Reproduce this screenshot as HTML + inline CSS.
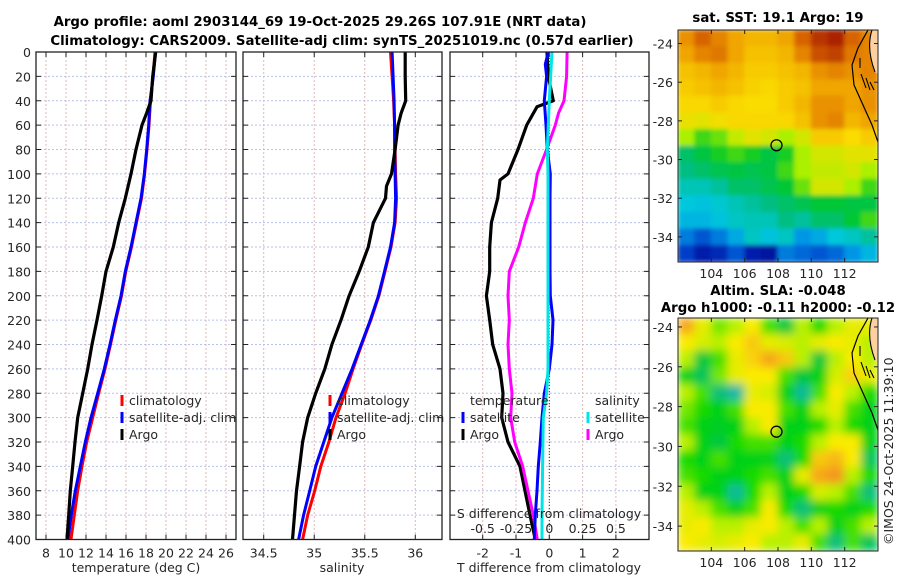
<!DOCTYPE html>
<html><head><meta charset="utf-8">
<style>
html,body{margin:0;padding:0;background:#fff;}
svg{display:block;font-family:"DejaVu Sans","Liberation Sans",sans-serif;}
.t{font-size:12.5px;fill:#262626;}
.b{font-size:13.3px;font-weight:bold;fill:#000;}
</style></head>
<body>
<svg id="fig" width="900" height="580" viewBox="0 0 900 580">
<defs>
<clipPath id="c1"><rect x="36" y="52" width="200" height="488"/></clipPath>
<clipPath id="c2"><rect x="243" y="52" width="199" height="488"/></clipPath>
<clipPath id="c3"><rect x="450" y="52" width="199" height="488"/></clipPath>
<clipPath id="cm1"><rect x="678" y="30" width="200" height="232"/></clipPath>
<clipPath id="cm2"><rect x="678" y="318" width="200" height="233"/></clipPath>
<filter id="blurS" x="-5%" y="-5%" width="110%" height="110%"><feGaussianBlur stdDeviation="2"/></filter>
<filter id="blurA" x="-5%" y="-5%" width="110%" height="110%"><feGaussianBlur stdDeviation="4.5"/></filter>
</defs>
<text class="b" x="320" y="26" text-anchor="middle">Argo profile: aoml 2903144_69 19-Oct-2025 29.26S 107.91E (NRT data)</text>
<text class="b" x="342" y="45" text-anchor="middle">Climatology: CARS2009. Satellite-adj clim: synTS_20251019.nc (0.57d earlier)</text>
<g id="g"></g>
<text class="b" x="778" y="22" text-anchor="middle">sat. SST: 19.1 Argo: 19</text>
<text class="b" x="778" y="295" text-anchor="middle">Altim. SLA: -0.048</text>
<text class="b" x="778" y="312" text-anchor="middle">Argo h1000: -0.11 h2000: -0.12</text>
<text class="t" x="0" y="0" transform="translate(893,545) rotate(-90)" style="font-size:12.5px">©IMOS 24-Oct-2025 11:39:10</text>
</svg>
<script>
// ---- data: temperature panel ----
const depthT = [0,20,40,50,60,80,100,120,140,160,180,200,220,240,260,280,300,320,340,360,380,400];
const tempArgo = [18.97,18.67,18.5,18.07,17.6,17.0,16.5,15.93,15.27,14.73,14.0,13.57,13.1,12.6,12.17,11.67,11.17,10.9,10.67,10.43,10.27,10.1];
const depthStd = [0,20,40,60,80,100,120,140,160,180,200,220,240,260,280,300,320,340,360,380,400];
const tempSat = [18.95,18.73,18.4,18.27,18.07,17.83,17.5,17.0,16.5,15.93,15.5,14.93,14.4,13.83,13.17,12.5,11.93,11.43,10.93,10.53,10.2];
const tempClim = [18.9,18.7,18.45,18.3,18.1,17.86,17.55,17.05,16.55,15.98,15.55,14.98,14.45,13.9,13.27,12.67,12.07,11.6,11.17,10.83,10.5];
const tempTicks = [8,10,12,14,16,18,20,22,24,26];
// ---- data: salinity panel ----
const depthS = [0,20,40,50,60,80,100,110,120,140,160,180,200,220,240,260,280,300,320,340,360,380,400];
const salArgo = [35.90,35.90,35.905,35.86,35.83,35.80,35.765,35.715,35.705,35.585,35.535,35.445,35.345,35.265,35.175,35.105,35.015,34.935,34.885,34.855,34.825,34.805,34.785];
const salSat = [35.77,35.78,35.79,35.795,35.795,35.80,35.805,35.795,35.755,35.695,35.635,35.555,35.465,35.375,35.275,35.175,35.095,35.015,34.955,34.895,34.845];
const salClim = [35.755,35.77,35.785,35.795,35.80,35.805,35.815,35.80,35.76,35.70,35.64,35.56,35.47,35.385,35.305,35.215,35.145,35.065,35.005,34.935,34.885];
const salTicks = [34.5,35,35.5,36];
// ---- data: difference panel ----
const depthTdA = [0,20,40,45,60,80,100,105,120,140,160,180,200,220,240,260,280,300,320,340,360,380,400];
const tDiffArgo = [-0.07,-0.03,0.12,-0.37,-0.68,-0.94,-1.24,-1.48,-1.55,-1.74,-1.79,-1.79,-1.89,-1.79,-1.70,-1.48,-1.39,-1.43,-1.24,-0.88,-0.73,-0.58,-0.42];
const depthSdA = [0,20,40,50,60,80,100,120,140,160,180,200,220,240,260,280,300,320,340,360,380,400];
const sDiffArgo = [0.134,0.13,0.11,0.07,0.045,-0.02,-0.09,-0.12,-0.18,-0.23,-0.30,-0.31,-0.30,-0.31,-0.30,-0.28,-0.29,-0.26,-0.20,-0.16,-0.12,-0.09];
const depthTdS = [0,10,20,40,60,80,100,120,140,160,180,200,220,240,260,280,300,320,340,360,380,400];
const tDiffSat = [-0.03,-0.12,-0.08,-0.15,-0.1,-0.06,0.03,0.02,0.02,0.02,0.02,0.03,0.11,0.08,0.0,-0.15,-0.22,-0.27,-0.33,-0.37,-0.42,-0.45];
const depthSdS = [0,40,80,100,200,260,280,300,340,380,400];
const sDiffSat = [0.02,0.0,-0.015,-0.01,-0.01,-0.01,-0.02,-0.045,-0.05,-0.055,-0.055];
const tDiffTicks = [-2,-1,0,1,2];
const sDiffTicks = [-0.5,-0.25,0,0.25,0.5];
const depthTicks = [0,20,40,60,80,100,120,140,160,180,200,220,240,260,280,300,320,340,360,380,400];
// ---- data: maps (rows north->south, cols west->east) ----
const sstGrid = [
[0.78,0.85,0.8,0.75,0.72,0.72,0.75,0.85,0.92,0.95,0.85,0.8],
[0.75,0.8,0.82,0.75,0.7,0.7,0.72,0.8,0.88,0.9,0.82,0.8],
[0.7,0.72,0.75,0.72,0.68,0.68,0.7,0.72,0.78,0.8,0.78,0.8],
[0.68,0.7,0.72,0.7,0.67,0.66,0.68,0.7,0.75,0.75,0.75,0.78],
[0.66,0.66,0.68,0.66,0.65,0.65,0.68,0.72,0.78,0.78,0.75,0.78],
[0.63,0.62,0.64,0.66,0.66,0.66,0.66,0.7,0.78,0.8,0.72,0.75],
[0.55,0.5,0.52,0.58,0.62,0.6,0.55,0.6,0.68,0.68,0.65,0.68],
[0.42,0.45,0.48,0.5,0.48,0.45,0.48,0.55,0.6,0.6,0.62,0.62],
[0.4,0.42,0.44,0.45,0.44,0.45,0.5,0.55,0.58,0.58,0.6,0.55],
[0.36,0.36,0.38,0.42,0.42,0.44,0.46,0.52,0.6,0.6,0.55,0.5],
[0.33,0.32,0.34,0.36,0.38,0.4,0.42,0.44,0.46,0.46,0.45,0.45],
[0.3,0.3,0.32,0.35,0.36,0.36,0.4,0.38,0.42,0.42,0.46,0.5],
[0.22,0.18,0.22,0.28,0.35,0.32,0.35,0.25,0.28,0.33,0.35,0.38],
[0.15,0.1,0.12,0.18,0.1,0.08,0.22,0.2,0.18,0.2,0.25,0.3]];
const slaGrid = [
[0.7,0.6,0.52,0.55,0.62,0.5,0.42,0.55,0.48,0.55,0.6,0.6],
[0.62,0.58,0.55,0.62,0.66,0.6,0.58,0.55,0.6,0.62,0.6,0.55],
[0.55,0.42,0.5,0.6,0.65,0.7,0.66,0.55,0.42,0.55,0.62,0.55],
[0.45,0.4,0.52,0.6,0.62,0.62,0.5,0.42,0.45,0.58,0.65,0.6],
[0.55,0.5,0.38,0.35,0.6,0.58,0.45,0.36,0.5,0.62,0.55,0.48],
[0.52,0.48,0.45,0.5,0.62,0.62,0.5,0.45,0.55,0.6,0.5,0.45],
[0.5,0.45,0.44,0.45,0.55,0.62,0.45,0.45,0.48,0.55,0.48,0.45],
[0.55,0.45,0.42,0.48,0.5,0.5,0.45,0.48,0.55,0.62,0.62,0.45],
[0.48,0.45,0.5,0.45,0.45,0.45,0.38,0.48,0.66,0.68,0.62,0.4],
[0.5,0.48,0.45,0.45,0.48,0.5,0.45,0.6,0.7,0.72,0.55,0.48],
[0.55,0.45,0.45,0.36,0.48,0.55,0.45,0.48,0.58,0.55,0.5,0.38],
[0.6,0.55,0.5,0.45,0.5,0.62,0.48,0.38,0.45,0.48,0.45,0.48],
[0.6,0.62,0.55,0.55,0.6,0.62,0.55,0.5,0.55,0.45,0.5,0.55],
[0.62,0.6,0.58,0.6,0.62,0.55,0.55,0.6,0.5,0.38,0.5,0.4]];
const lonTicks = [104,106,108,110,112];
const latTicks = [-24,-26,-28,-30,-32,-34];
const argoLon = 107.91, argoLat = -29.26;

const NS='http://www.w3.org/2000/svg';
const G=document.getElementById('g');
function el(tag,attrs,parent){const e=document.createElementNS(NS,tag);for(const k in attrs)e.setAttribute(k,attrs[k]);(parent||G).appendChild(e);return e;}
function txt(x,y,s,anchor,parent){const t=el('text',{x:x,y:y,class:'t','text-anchor':anchor||'middle'},parent);t.textContent=s;return t;}

const top0=52, bot0=539.5;
const yD = d => top0 + d*(bot0-top0)/400;
function xLin(x0,v0,x1,v1){return v=>x0+(v-v0)*(x1-x0)/(v1-v0);}
const xT = xLin(46,8,226,26);
const xS = xLin(263.7,34.5,415.3,36);
const xTd = xLin(549.3,0,582.6,1);
const xSd = xLin(549.3,0,582.6,0.25);

function panel(name,x0,w,ticks,xf,fmt,clip){
  const g=el('g',{});
  
  
  el('rect',{x:x0,y:top0,width:w,height:bot0-top0,fill:'#fff'},g);
  depthTicks.forEach(d=>{ if(d>0&&d<400) el('line',{x1:x0,x2:x0+w,y1:yD(d),y2:yD(d),stroke:'#b8c2ea','stroke-width':1,'stroke-dasharray':'2,2'},g);});
  ticks.forEach(v=>{const x=xf(v); el('line',{x1:x,x2:x,y1:top0,y2:bot0,stroke:'#e0b8b8','stroke-width':1,'stroke-dasharray':'2,2'},g);
    el('line',{x1:x,x2:x,y1:bot0,y2:bot0-5,stroke:'#222'},g); el('line',{x1:x,x2:x,y1:top0,y2:top0+5,stroke:'#222'},g);
    if(fmt){const t=txt(x,bot0+18,fmt(v),'middle',g);  }});
  depthTicks.forEach(d=>{el('line',{x1:x0,x2:x0+5,y1:yD(d),y2:yD(d),stroke:'#222'},g);el('line',{x1:x0+w-5,x2:x0+w,y1:yD(d),y2:yD(d),stroke:'#222'},g);});
  const sg=el('g',{'clip-path':'url(#'+clip+')'},g);
  el('rect',{x:x0,y:top0,width:w,height:bot0-top0,fill:'none',stroke:'#222','stroke-width':1.3},g);
  return sg;
}
function series(parent,name,depths,vals,xf,color,wid){
  const pts=vals.map((v,i)=>xf(v).toFixed(1)+','+yD(depths[i]).toFixed(1)).join(' ');
  const p=el('polyline',{points:pts,fill:'none',stroke:color,'stroke-width':wid||3,'stroke-linejoin':'round'},parent);
  
  
}
depthTicks.forEach(d=>{const t=txt(31,yD(d)+5,String(d),'end');  });

const p1=panel('temperature-panel',36,200,tempTicks,xT,v=>String(v),'c1');
series(p1,'temp-climatology-line',depthStd,tempClim,xT,'#ff0000',3);
series(p1,'temp-satellite-line',depthStd,tempSat,xT,'#0000ff',3);
series(p1,'temp-argo-line',depthT,tempArgo,xT,'#000000',3.2);
const p2=panel('salinity-panel',243,199,salTicks,xS,v=>String(v),'c2');
series(p2,'sal-climatology-line',depthStd,salClim,xS,'#ff0000',3);
series(p2,'sal-satellite-line',depthStd,salSat,xS,'#0000ff',3);
series(p2,'sal-argo-line',depthS,salArgo,xS,'#000000',3.2);
const p3=panel('difference-panel',450,199,tDiffTicks,xTd,v=>String(v),'c3');
el('line',{x1:xTd(0),x2:xTd(0),y1:top0,y2:bot0,stroke:'#333','stroke-dasharray':'1,2'},p3);
series(p3,'tdiff-argo-line',depthTdA,tDiffArgo,xTd,'#000000',3.2);
series(p3,'sdiff-argo-line',depthSdA,sDiffArgo,xSd,'#ff00ff',3);
series(p3,'tdiff-satellite-line',depthTdS,tDiffSat,xTd,'#0000ff',3);
series(p3,'sdiff-satellite-line',depthSdS,sDiffSat,xSd,'#00e5e5',3);
sDiffTicks.forEach(v=>{const t=txt(xSd(v),533,String(v));  });
const sdt=txt(549,518,'S difference from climatology');  

[['temperature (deg C)',136,'temp-axis-title'],['salinity',342,'sal-axis-title'],['T difference from climatology',549,'t-diff-axis-title']].forEach(a=>{const t=txt(a[1],572,a[0]);});

function legend(x,y,items,name){
  const g=el('g',{});  
  items.forEach((it,i)=>{const yy=y+i*17; if(it[1]) el('line',{x1:x,x2:x,y1:yy-10,y2:yy+1,stroke:it[1],'stroke-width':3},g); txt(x+7,yy,it[0],'start',g);});
}
legend(122,405,[['climatology','#ff0000'],['satellite-adj. clim','#0000ff'],['Argo','#000']],'temp-legend');
legend(330,405,[['climatology','#ff0000'],['satellite-adj. clim','#0000ff'],['Argo','#000']],'sal-legend');
txt(470,405,'temperature','start'); txt(595,405,'salinity','start');
legend(463,422,[['satellite','#0000ff'],['Argo','#000']],'tdiff-legend');
legend(588,422,[['satellite','#00e5e5'],['Argo','#ff00ff']],'sdiff-legend');

function lerpCmap(stops,v){
  if(v<=stops[0][0]) return stops[0][1];
  for(let i=1;i<stops.length;i++){if(v<=stops[i][0]){const a=stops[i-1],b=stops[i],t=(v-a[0])/(b[0]-a[0]);return a[1].map((c,k)=>Math.round(c+(b[1][k]-c)*t));}}
  return stops[stops.length-1][1];
}
const jet=[[0.05,[0,0,140]],[0.15,[0,60,200]],[0.25,[0,150,230]],[0.33,[0,200,220]],[0.4,[0,190,130]],[0.47,[0,200,40]],[0.55,[170,240,0]],[0.65,[250,220,0]],[0.75,[240,165,0]],[0.85,[215,100,0]],[0.95,[170,35,0]]];
const slaMap=[[0.35,[20,185,165]],[0.42,[0,200,60]],[0.47,[0,215,0]],[0.55,[185,240,0]],[0.62,[250,235,0]],[0.72,[245,150,30]]];
function map(name,x0,y0,w,h,latTop,latBot,grid,cm,clip,filt){
  const g=el('g',{});  
  const xL=xLin(x0,102,x0+w,114), yL=xLin(y0,latTop,y0+h,latBot);
  const cg=el('g',{'clip-path':'url(#'+clip+')'},g);
  const ig=el('g',{filter:'url(#'+filt+')'},cg);
  const rows=grid.length, cols=grid[0].length, cw=w/cols, ch=h/rows;
  grid.forEach((row,r)=>row.forEach((v,c)=>{const col=lerpCmap(cm,v);
    const rc=el('rect',{x:x0+c*cw-0.5,y:y0+r*ch-0.5,width:cw+1,height:ch+1,fill:'rgb('+col.join(',')+')'},ig);
     }));
  el('path',{d:`M${x0+w-6},${y0} Q${x0+w-12},${y0+18} ${x0+w-3},${y0+42} L${x0+w},${y0+44} L${x0+w},${y0} Z`,fill:'#fdd0a0'},cg);
  el('path',{d:`M${x0+w-10},${y0} L${x0+w-20},${y0+18} L${x0+w-26},${y0+35} L${x0+w-24},${y0+55} L${x0+w-15},${y0+75} L${x0+w-6},${y0+95} L${x0+w},${y0+112}`,fill:'none',stroke:'#000','stroke-width':1.2},cg);
  el('path',{d:`M${x0+w-6},${y0} Q${x0+w-12},${y0+18} ${x0+w-3},${y0+42} M${x0+w-17},${y0+44} l5,14 M${x0+w-12},${y0+48} l4,12 M${x0+w-8},${y0+52} l4,8 M${x0+w-18},${y0+28} l0,10`,fill:'none',stroke:'#000','stroke-width':1.1},cg);
  const c=el('circle',{cx:xL(argoLon),cy:yL(argoLat),r:5.5,fill:'none',stroke:'#000','stroke-width':1.3},g);
   
  el('rect',{x:x0,y:y0,width:w,height:h,fill:'none',stroke:'#222','stroke-width':1},g);
  lonTicks.forEach(v=>{const x=xL(v); el('line',{x1:x,x2:x,y1:y0+h,y2:y0+h-4,stroke:'#222'},g); el('line',{x1:x,x2:x,y1:y0,y2:y0+4,stroke:'#222'},g); txt(x,y0+h+16,String(v),'middle',g);});
  latTicks.forEach(v=>{const y=yL(v); el('line',{x1:x0,x2:x0+4,y1:y,y2:y,stroke:'#222'},g); el('line',{x1:x0+w-4,x2:x0+w,y1:y,y2:y,stroke:'#222'},g); txt(x0-5,y+5,String(v),'end',g);});
}
map('sst-map',678,30,200,232,-23.3,-35.3,sstGrid,jet,'cm1','blurS');
map('sla-map',678,318,200,233,-23.55,-35.25,slaGrid,slaMap,'cm2','blurA');
</script>
</body></html>
